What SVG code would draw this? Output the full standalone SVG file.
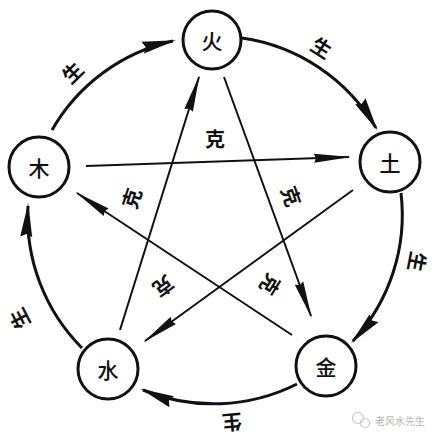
<svg xmlns="http://www.w3.org/2000/svg" width="439" height="439" viewBox="0 0 439 439">
<style>
.arc{fill:none;stroke:#111;stroke-width:3;marker-end:url(#ahBig)}
.ke{fill:none;stroke:#111;stroke-width:2;marker-end:url(#ahSmall)}
.node circle{fill:#fff;stroke:#111;stroke-width:3}
.node text{font-family:"Noto Sans CJK SC","Noto Sans CJK JP",sans-serif;font-size:21px;fill:#111;text-anchor:middle;dominant-baseline:central;font-weight:500}
.lbl{font-family:"Noto Sans CJK SC","Noto Sans CJK JP",sans-serif;font-size:20px;fill:#111;text-anchor:middle;dominant-baseline:central;font-weight:700}
.wm{font-family:"Noto Sans CJK SC","Noto Sans CJK JP",sans-serif;font-size:10px;fill:#b5b5b5;dominant-baseline:central}
</style>
<defs>
<marker id="ahBig" markerUnits="userSpaceOnUse" markerWidth="44" markerHeight="16" viewBox="-36 -8 44 16" refX="0" refY="0" orient="auto" overflow="visible">
<path d="M3,0 L-31,-6 L-28,0 L-31,6 Z" fill="#111"/>
</marker>
<marker id="ahSmall" markerUnits="userSpaceOnUse" markerWidth="44" markerHeight="14" viewBox="-38 -7 44 14" refX="0" refY="0" orient="auto" overflow="visible">
<path d="M2,0 L-35,-4.5 L-33,0 L-35,4.5 Z" fill="#111"/>
</marker>
</defs>
<rect width="439" height="439" fill="#fff"/>
<g id="connectors">
<path class="arc" d="M52,130 A186,186 0 0 1 173,41"/>
<path class="arc" d="M242,38 A186,186 0 0 1 376,128"/>
<path class="arc" d="M401,193 A186,186 0 0 1 353,341"/>
<path class="arc" d="M297,384 A186,186 0 0 1 143,390"/>
<path class="arc" d="M82,348 A186,186 0 0 1 28,206"/>
<path class="ke" d="M86,166 L349,157"/>
<path class="ke" d="M353,190 L145,341"/>
<path class="ke" d="M120,330 L199,77"/>
<path class="ke" d="M224,77 L311,316"/>
<path class="ke" d="M292,335 L77,193"/>
</g>
<g id="labels">
<text class="lbl" transform="translate(72,72) rotate(-44)">生</text>
<text class="lbl" transform="translate(322,47) rotate(32)">生</text>
<text class="lbl" transform="translate(418,262) rotate(101)">生</text>
<text class="lbl" transform="translate(232,423) rotate(175)">生</text>
<text class="lbl" transform="translate(19,319) rotate(243)">生</text>
<text class="lbl" transform="translate(215,138)">克</text>
<text class="lbl" transform="translate(131,198) rotate(-72)">克</text>
<text class="lbl" transform="translate(292,196) rotate(70)">克</text>
<text class="lbl" transform="translate(164,287) rotate(144)">克</text>
<text class="lbl" transform="translate(271,285) rotate(122)">克</text>
</g>
<g id="node-huo" class="node"><circle cx="212" cy="40" r="29"/><text x="212" y="40">火</text></g>
<g id="node-mu" class="node"><circle cx="39" cy="167" r="30"/><text x="39" y="167">木</text></g>
<g id="node-tu" class="node"><circle cx="390" cy="162" r="30"/><text x="390" y="162">土</text></g>
<g id="node-shui" class="node"><circle cx="108" cy="369" r="30"/><text x="108" y="369">水</text></g>
<g id="node-jin" class="node"><circle cx="326" cy="366" r="30"/><text x="326" y="366">金</text></g>
<g id="watermark">
<circle cx="358" cy="418" r="5.5" fill="none" stroke="#c8c8c8" stroke-width="1.2"/>
<circle cx="365" cy="423" r="4.5" fill="none" stroke="#c8c8c8" stroke-width="1.2"/>
<text class="wm" x="375" y="420">老风水先生</text>
</g>
</svg>
